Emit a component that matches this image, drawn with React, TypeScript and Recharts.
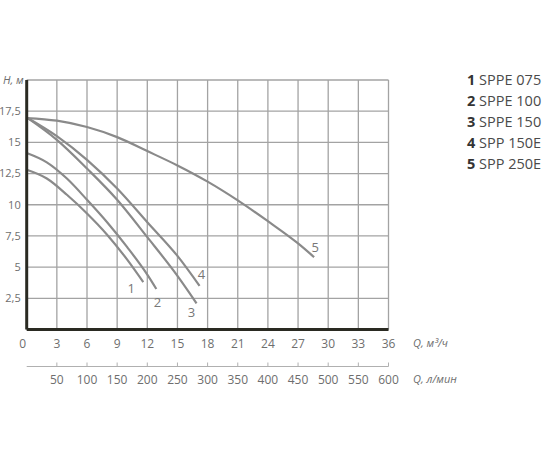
import { LineChart, Line, XAxis, YAxis, CartesianGrid } from 'recharts';

// flow Q (m3/h) and head H (m)
const q1 = [0, 2, 4, 6, 8, 10, 11.6];
const h1 = [12.8, 12.1, 10.8, 9.3, 7.6, 5.6, 3.8];
const q2 = [0, 2, 4, 6, 8, 10, 12, 12.9];
const h2 = [14.15, 13.4, 12.1, 10.4, 8.6, 6.6, 4.4, 3.25];
const q3 = [0, 3, 6, 9, 12, 15, 16.9];
const h3 = [17, 15.2, 12.9, 10.4, 7.4, 4.3, 2.1];
const q4 = [0, 3, 6, 9, 12, 15, 17.2];
const h4 = [17, 15.5, 13.6, 11.3, 8.6, 5.9, 3.5];
const q5 = [0, 3, 6, 9, 12, 15, 18, 21, 24, 27, 28.6];
const h5 = [16.95, 16.74, 16.23, 15.42, 14.3, 13.15, 11.85, 10.35, 8.68, 6.9, 5.8];

const curveNums = ['1', '2', '3', '4', '5'];
const models = ['SPPE 075', 'SPPE 100', 'SPPE 150', 'SPP 150E', 'SPP 250E'];

const qTicks = [0, 3, 6, 9, 12, 15, 18, 21, 24, 27, 30, 33, 36];
// л/мин under each m³/ч tick (none under 0)
const lpmTicks = ['', '50', '100', '150', '200', '250', '300', '350', '400', '450', '500', '550', '600'];
const hTicks = [0, 2.5, 5, 7.5, 10, 12.5, 15, 17.5, 20];

const curves = [
  [q1, h1], [q2, h2], [q3, h3], [q4, h4], [q5, h5],
].map(([q, h]) => q.map((v, i) => ({ q: v, h: h[i] })));

// where the curve number sits relative to the curve end
const numOffset = [[-12, 6], [1, 13], [-5, 9], [2, -11], [1, -10]];

const GRAY = '#6e6e6e';
const FONT = '"Open Sans", sans-serif';

const endLabel = (idx: number) => (p: any) => {
  const last = curves[idx].length - 1;
  if (p.index !== last) return null;
  const vb = p.viewBox || {};
  const x = (p.x ?? vb.x) + numOffset[idx][0];
  const y = (p.y ?? vb.y) + numOffset[idx][1];
  return (
    <text key={`n${idx}`} x={x} y={y} dy="0.35em" textAnchor="middle" fontSize={13} fill="#777" fontFamily={FONT}>
      {curveNums[idx]}
    </text>
  );
};

// one tick draws both scales: m³/ч on top, л/мин on the lower line
const DualTick = (props: any) => {
  const { x, y, payload } = props;
  const v = payload.value;
  const lpm = lpmTicks[qTicks.indexOf(v)];
  const qx = v === 0 ? x - 4 : x;
  return (
    <g>
      <text x={qx} y={y + 9} textAnchor="middle" fontSize={12} fill={GRAY} fontFamily={FONT}>
        {v}
      </text>
      {lpm && (
        <>
          <line x1={x} x2={x} y1={y + 24} y2={y + 28} stroke="#b0b0b0" />
          <text x={x} y={y + 45} textAnchor="middle" fontSize={12} fill={GRAY} fontFamily={FONT}>
            {lpm}
          </text>
        </>
      )}
    </g>
  );
};

const title = { position: 'absolute' as const, fontFamily: FONT, fontStyle: 'italic', fontSize: 11, color: GRAY, lineHeight: '14px', whiteSpace: 'nowrap' as const };

export default function App() {
  return (
    <div style={{ position: 'absolute', left: 0, top: 0, width: 550, height: 450, background: '#fff' }}>
      <LineChart width={550} height={450} margin={{ top: 80, right: 161.5, bottom: 53.5, left: 0 }}>
        <CartesianGrid xAxisId="a" stroke="#a3a3a3" strokeWidth={1.3} />
        <XAxis
          xAxisId="a" dataKey="q" type="number" domain={[0, 36]} ticks={qTicks} allowDataOverflow
          height={37} tickLine={false} tickSize={7} tickMargin={2}
          axisLine={{ stroke: '#2a2a22', strokeWidth: 3 }}
          tick={(p: any) => <DualTick {...p} />}
        />
        <XAxis
          xAxisId="b" type="number" domain={[0, 600]} allowDataOverflow
          height={30} tick={false} tickLine={false}
          axisLine={{ stroke: '#b0b0b0', strokeWidth: 1 }}
        />
        <YAxis
          type="number" domain={[0, 20]} ticks={hTicks} width={26.7}
          tickLine={false} tickSize={4} tickMargin={2}
          axisLine={{ stroke: '#2a2a22', strokeWidth: 3 }}
          tick={{ fontSize: 11, fill: GRAY, fontFamily: FONT }}
          tickFormatter={(v: number) => (v === 0 || v === 20 ? '' : String(v).replace('.', ','))}
        />
        {curves.map((pts, i) => (
          <Line
            key={i} data={pts} dataKey="h" xAxisId="a" type="monotone"
            stroke="#8a8a8a" strokeWidth={2.2} dot={false}
            isAnimationActive={false} label={endLabel(i)}
          />
        ))}
      </LineChart>
      <div style={{ ...title, left: 3, top: 73 }}>H, м</div>
      <div style={{ ...title, left: 413, top: 336 }}>Q, м³/ч</div>
      <div style={{ ...title, left: 413, top: 372 }}>Q, л/мин</div>
      <div style={{ position: 'absolute', left: 467, top: 69, fontFamily: FONT, fontSize: 14.5, lineHeight: '21px', color: '#4a4a4a' }}>
        {models.map((m, i) => (
          <div key={m}><b style={{ color: '#333' }}>{curveNums[i]}</b> {m}</div>
        ))}
      </div>
    </div>
  );
}
